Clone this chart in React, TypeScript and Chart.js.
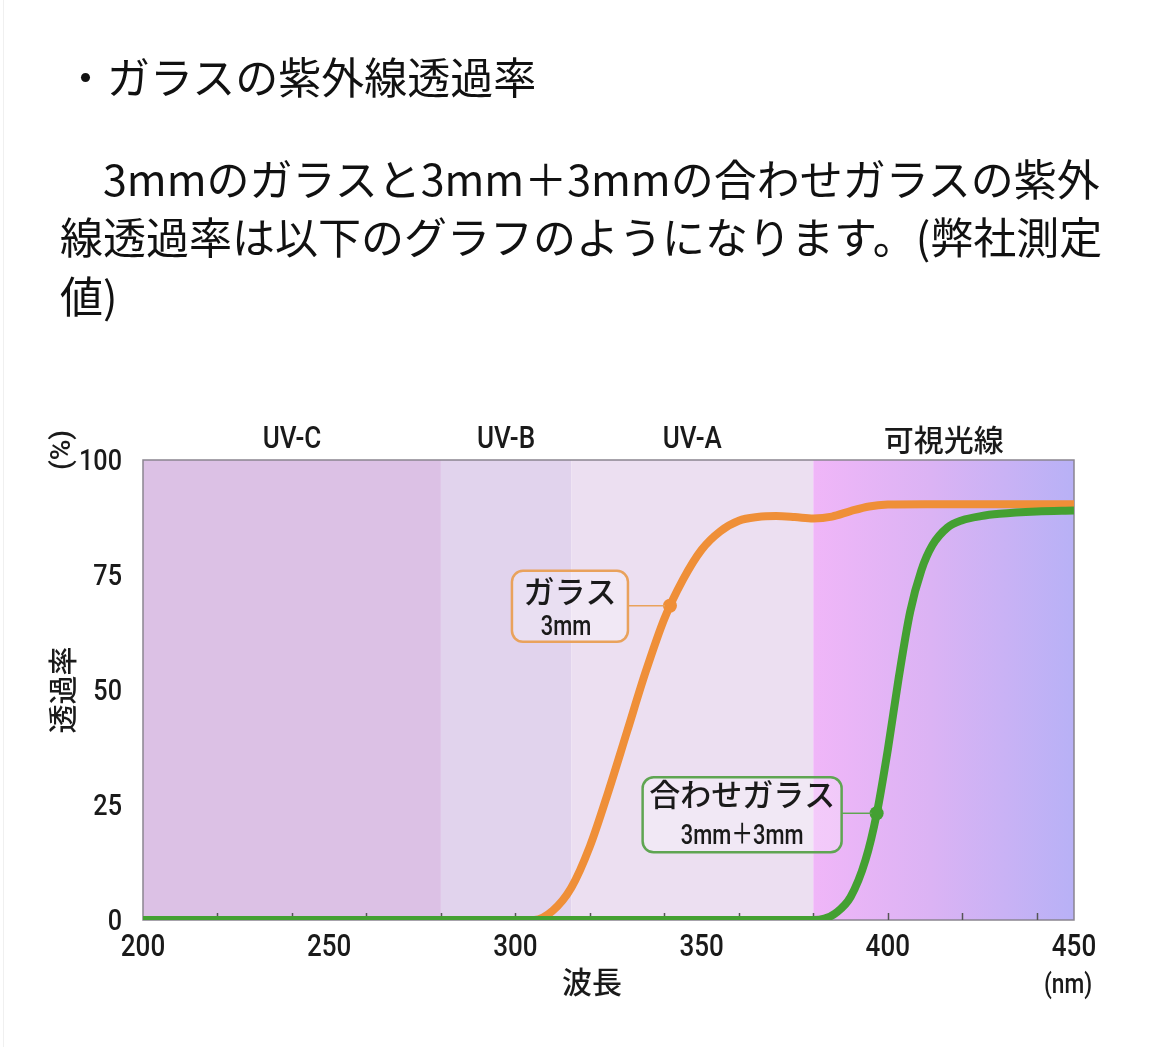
import React, { useEffect, useRef } from "react";
import { Chart, registerables } from "chart.js";

Chart.register(...registerables);

// ---- data ----
const glassWavelengths = [200, 300, 305, 310, 315, 320, 325, 330, 335, 340, 345, 350, 355, 360, 365, 370, 375, 380, 385, 390, 395, 400, 410, 450];
const glassTransmission = [0, 0, 0, 2, 7, 16, 28, 41, 54, 65.5, 74, 80.5, 84.5, 86.8, 87.6, 87.8, 87.6, 87.3, 87.7, 88.9, 89.9, 90.3, 90.4, 90.4];

const laminatedWavelengths = [200, 380, 383, 386, 390, 394, 397, 400, 403, 406, 409, 412, 416, 420, 425, 430, 440, 450];
const laminatedTransmission = [0, 0, 0.3, 1.5, 5, 13, 23, 37, 53, 67, 76, 81.5, 85.3, 86.9, 87.8, 88.3, 88.8, 89];

const markerWavelengths = [341.5, 397];
const markerTransmission = [68.3, 23.2];
const markerTitles = ["ガラス", "合わせガラス"];
const markerSubtitles = ["3mm", "3mm＋3mm"];

const bandEdges = [200, 280, 315, 380, 450];
const bandLabels = ["UV-C", "UV-B", "UV-A", "可視光線"];

const xTickValues = [200, 250, 300, 350, 400, 450];
const xMinorTicks = [220, 240, 260, 280, 300, 320, 340, 360, 380, 400, 420, 440];
const yTickValues = [0, 25, 50, 75, 100];

// ---- styles ----
const ORANGE = "#ef8f38";
const GREEN = "#44a032";
const ORANGE_BOX = "#e9a25c";
const GREEN_BOX = "#5fa552";
const TEXT = "#1a1a1a";
const SANS = "Roboto, 'Liberation Sans', 'Noto Sans CJK JP', sans-serif";
const CJK = "'Noto Sans CJK JP', 'Noto Sans', sans-serif";
const BAND_COLORS = ["#dcc1e5", "#e1d3ed", "#ecdff1"];

const toPoints = (xs: number[], ys: number[]) => xs.map((x, i) => ({ x, y: ys[i] }));

// condensed-looking text: a sans face squeezed horizontally
function narrowText(ctx: CanvasRenderingContext2D, text: string, x: number, y: number, size: number, align: CanvasTextAlign, squeeze = 0.84) {
  ctx.save();
  ctx.translate(x, y);
  ctx.scale(squeeze, 1);
  ctx.font = `500 ${size}px ${SANS}`;
  ctx.textAlign = align;
  ctx.textBaseline = "middle";
  ctx.fillText(text, 0, 0);
  ctx.restore();
}

const decorPlugin = {
  id: "decor",
  beforeDatasetsDraw(chart: any) {
    const { ctx, chartArea } = chart;
    const xs = chart.scales.x;
    const { top, bottom, left, right } = chartArea;
    ctx.save();
    for (let i = 0; i < bandEdges.length - 1; i++) {
      const x0 = xs.getPixelForValue(bandEdges[i]);
      const x1 = xs.getPixelForValue(bandEdges[i + 1]);
      if (i < BAND_COLORS.length) {
        ctx.fillStyle = BAND_COLORS[i];
      } else {
        const g = ctx.createLinearGradient(x0, 0, x1, 0);
        g.addColorStop(0, "#f0b6f8");
        g.addColorStop(0.45, "#dbb3f4");
        g.addColorStop(1, "#b8b1f6");
        ctx.fillStyle = g;
      }
      ctx.fillRect(x0, top, x1 - x0, bottom - top);
    }
    ctx.strokeStyle = "#8a8590";
    ctx.lineWidth = 1.5;
    ctx.strokeRect(left, top, right - left, bottom - top);
    ctx.strokeStyle = "#555555";
    ctx.lineWidth = 1.5;
    for (const v of xMinorTicks) {
      const px = Math.round(xs.getPixelForValue(v)) + 0.5;
      ctx.beginPath();
      ctx.moveTo(px, bottom);
      ctx.lineTo(px, bottom - 7);
      ctx.stroke();
    }
    ctx.restore();
  },
  afterDatasetsDraw(chart: any) {
    const { ctx } = chart;
    const xs = chart.scales.x;
    const ys = chart.scales.y;
    const boxes = [
      { dx: -42, w: 116, up: 35, down: 36, color: ORANGE_BOX, t1: 20, t2: 57, shift2: -4 },
      { dx: -35, w: 199, up: 36, down: 39, color: GREEN_BOX, t1: 17, t2: 60, shift2: 0 },
    ];
    ctx.save();
    markerWavelengths.forEach((wl, i) => {
      const b = boxes[i];
      const mx = xs.getPixelForValue(wl);
      const my = ys.getPixelForValue(markerTransmission[i]);
      const bx1 = mx + b.dx;
      const bx0 = bx1 - b.w;
      const by0 = my - b.up;
      const bh = b.up + b.down;
      ctx.strokeStyle = b.color;
      ctx.lineWidth = 1.5;
      ctx.beginPath();
      ctx.moveTo(bx1, my);
      ctx.lineTo(mx - 5, my);
      ctx.stroke();
      ctx.beginPath();
      ctx.roundRect(bx0, by0, b.w, bh, 11);
      ctx.fillStyle = "rgba(255,255,255,0.28)";
      ctx.fill();
      ctx.lineWidth = 2.5;
      ctx.strokeStyle = b.color;
      ctx.stroke();
      ctx.fillStyle = TEXT;
      ctx.textAlign = "center";
      ctx.textBaseline = "middle";
      ctx.font = `500 31px ${CJK}`;
      ctx.fillText(markerTitles[i], bx0 + b.w / 2, by0 + b.t1);
      narrowText(ctx, markerSubtitles[i], bx0 + b.w / 2 + b.shift2, by0 + b.t2, 28, "center", 0.78);
    });
    ctx.restore();
  },
  afterDraw(chart: any) {
    const { ctx, chartArea } = chart;
    const xs = chart.scales.x;
    const ys = chart.scales.y;
    ctx.save();
    ctx.fillStyle = TEXT;
    // tick labels from the library's scales
    xs.ticks.forEach((t: any) => {
      narrowText(ctx, String(t.value), xs.getPixelForValue(t.value), chartArea.bottom + 28, 31, "center");
    });
    ys.ticks.forEach((t: any) => {
      narrowText(ctx, String(t.value), chartArea.left - 21, ys.getPixelForValue(t.value) + 2, 30, "right");
    });
    // band labels
    bandLabels.forEach((lab, i) => {
      const cx = (xs.getPixelForValue(bandEdges[i]) + xs.getPixelForValue(bandEdges[i + 1])) / 2;
      if (i === 3) {
        ctx.font = `500 30px ${CJK}`;
        ctx.textAlign = "center";
        ctx.textBaseline = "middle";
        ctx.fillText(lab, cx, chartArea.top - 20);
      } else {
        narrowText(ctx, lab, cx, chartArea.top - 20, 31, "center");
      }
    });
    // axis titles
    ctx.font = `500 30px ${CJK}`;
    ctx.textAlign = "center";
    ctx.textBaseline = "middle";
    ctx.fillText("波長", chartArea.left + 449, chartArea.bottom + 62);
    narrowText(ctx, "(nm)", chartArea.right - 6, chartArea.bottom + 66, 27, "center");
    ctx.translate(63, 0);
    ctx.rotate(-Math.PI / 2);
    ctx.font = `500 29px ${CJK}`;
    ctx.textAlign = "center";
    ctx.textBaseline = "middle";
    ctx.fillText("透過率", -690, 0);
    ctx.font = `500 28px ${SANS}`;
    ctx.fillText("(%)", -450, 0);
    ctx.restore();
  },
};

function UVChart() {
  const ref = useRef<HTMLCanvasElement | null>(null);
  useEffect(() => {
    if (!ref.current) return;
    const chart = new Chart(ref.current, {
      type: "line",
      data: {
        datasets: [
          {
            label: "マーカー",
            data: toPoints(markerWavelengths, markerTransmission),
            showLine: false,
            pointRadius: 7,
            pointBackgroundColor: [ORANGE, GREEN],
            pointBorderWidth: 0,
          },
          {
            label: "合わせガラス 3mm＋3mm",
            data: toPoints(laminatedWavelengths, laminatedTransmission),
            borderColor: GREEN,
            borderWidth: 8,
            pointRadius: 0,
            cubicInterpolationMode: "monotone",
            fill: false,
          },
          {
            label: "ガラス 3mm",
            data: toPoints(glassWavelengths, glassTransmission),
            borderColor: ORANGE,
            borderWidth: 8,
            pointRadius: 0,
            cubicInterpolationMode: "monotone",
            fill: false,
          },
        ],
      },
      options: {
        animation: false,
        responsive: false,
        devicePixelRatio: 1,
        layout: { padding: { top: 460, right: 82, bottom: 0, left: 0 } },
        plugins: { legend: { display: false }, tooltip: { enabled: false }, title: { display: false } },
        scales: {
          x: {
            type: "linear",
            min: 200,
            max: 450,
            grid: { display: false },
            border: { display: false },
            afterBuildTicks: (s: any) => {
              s.ticks = xTickValues.map((v) => ({ value: v }));
            },
            afterFit: (s: any) => {
              s.height = 127;
            },
            ticks: { display: false },
          },
          y: {
            type: "linear",
            min: 0,
            max: 100,
            grid: { display: false },
            border: { display: false },
            afterBuildTicks: (s: any) => {
              s.ticks = yTickValues.map((v) => ({ value: v }));
            },
            afterFit: (s: any) => {
              s.width = 143;
            },
            ticks: { display: false },
          },
        },
      },
      plugins: [decorPlugin],
    } as any);
    return () => chart.destroy();
  }, []);
  return (
    <canvas
      ref={ref}
      width={1156}
      height={1047}
      style={{ position: "absolute", left: 0, top: 0, width: 1156, height: 1047 }}
    />
  );
}

const lineStyle: React.CSSProperties = {
  position: "absolute",
  whiteSpace: "nowrap",
  fontFamily: CJK,
  fontSize: 43,
  lineHeight: "43px",
  color: "#111",
};

export default function App() {
  return (
    <div style={{ position: "absolute", left: 0, top: 0, width: 1156, height: 1047, background: "#fff", overflow: "hidden" }}>
      <div style={{ position: "absolute", left: 3, top: 0, width: 1, height: 1047, background: "#f0f0f0" }} />
      <UVChart />
      <div style={{ ...lineStyle, left: 64, top: 54 }}>・ガラスの紫外線透過率</div>
      <div style={{ ...lineStyle, left: 60, top: 156 }}>　3mmのガラスと3mm＋3mmの合わせガラスの紫外</div>
      <div style={{ ...lineStyle, left: 60, top: 214 }}>線透過率は以下のグラフのようになります。(弊社測定</div>
      <div style={{ ...lineStyle, left: 60, top: 273 }}>値)</div>
    </div>
  );
}
